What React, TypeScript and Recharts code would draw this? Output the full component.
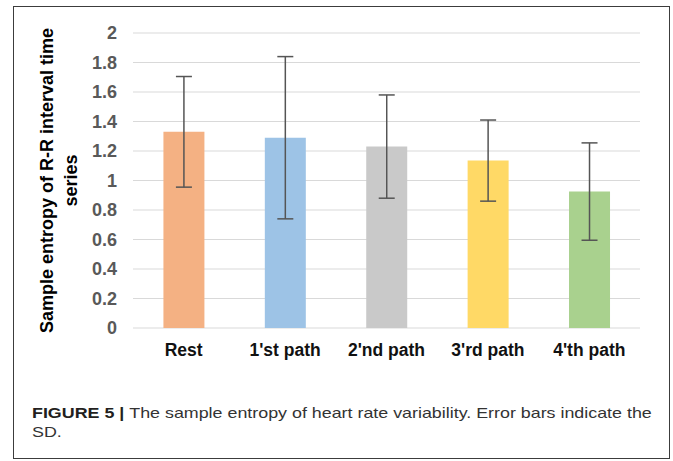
import React from "react";
import { BarChart, Bar, XAxis, YAxis, CartesianGrid, ErrorBar, Cell } from "recharts";

const categories = ["Rest", "1'st path", "2'nd path", "3'rd path", "4'th path"];
const meanValues = [1.33, 1.29, 1.23, 1.135, 0.925];
const sdValues = [0.375, 0.55, 0.35, 0.275, 0.33];
const barColors = ["#F4B183", "#9DC3E6", "#C9C9C9", "#FFD966", "#A9D18E"];
const yTicks = [0, 0.2, 0.4, 0.6, 0.8, 1, 1.2, 1.4, 1.6, 1.8, 2];
const yLabelLines = ["Sample entropy of R-R interval time", "series"];

const data = categories.map((name, i) => ({ name, value: meanValues[i], err: sdValues[i] }));

const FONT = "Arial, 'Liberation Sans', sans-serif";

const YLabel = (props: any) => {
  const vb = props.viewBox || {};
  const cy = (vb.y || 0) + (vb.height || 0) / 2;
  const x = 53;
  return (
    <text
      x={x}
      y={cy}
      transform={`rotate(-90 ${x} ${cy})`}
      textAnchor="middle"
      fontFamily={FONT}
      fontWeight="bold"
      fontSize={18}
      fill="#000"
    >
      <tspan x={x} dy={0}>{yLabelLines[0]}</tspan>
      <tspan x={x} dy={24}>{yLabelLines[1]}</tspan>
    </text>
  );
};

export default function App() {
  return (
    <div style={{ position: "absolute", left: 0, top: 0, width: 673, height: 461, background: "#fff" }}>
      <div
        style={{
          position: "absolute",
          left: 13,
          top: 6,
          width: 657,
          height: 453,
          boxSizing: "border-box",
          border: "1px solid #3c3c3c",
        }}
      />
      <div style={{ position: "absolute", left: 0, top: 0 }}>
        <BarChart
          width={673}
          height={370}
          data={data}
          margin={{ top: 33, right: 33, left: 0, bottom: 12 }}
          barCategoryGap="30%"
        >
          <CartesianGrid horizontal={true} vertical={false} stroke="#D9D9D9" strokeWidth={1} />
          <XAxis
            dataKey="name"
            axisLine={false}
            tickLine={false}
            height={30}
            tickMargin={10}
            interval={0}
            tick={{ fill: "#111", fontSize: 17.5, fontWeight: "bold", fontFamily: FONT }}
          />
          <YAxis
            width={133}
            domain={[0, 2]}
            ticks={yTicks}
            axisLine={false}
            tickLine={false}
            tickMargin={10}
            interval={0}
            tick={{ fill: "#595959", fontSize: 18, fontWeight: "bold", fontFamily: FONT }}
            label={{ content: <YLabel /> }}
          />
          <Bar dataKey="value" isAnimationActive={false}>
            {data.map((d, i) => (
              <Cell key={d.name} fill={barColors[i]} />
            ))}
            <ErrorBar dataKey="err" width={8} strokeWidth={1.5} stroke="#555" direction="y" isAnimationActive={false} />
          </Bar>
        </BarChart>
      </div>
      <div
        style={{
          position: "absolute",
          left: 32,
          top: 403,
          fontFamily: FONT,
          fontSize: 15,
          lineHeight: "19px",
          color: "#333",
          whiteSpace: "nowrap",
          transform: "scaleX(1.19)",
          transformOrigin: "0 0",
        }}
      >
        <span style={{ fontWeight: "bold", color: "#231F20" }}>FIGURE 5 | </span>
        The sample entropy of heart rate variability. Error bars indicate the
        <br />
        SD.
      </div>
    </div>
  );
}
